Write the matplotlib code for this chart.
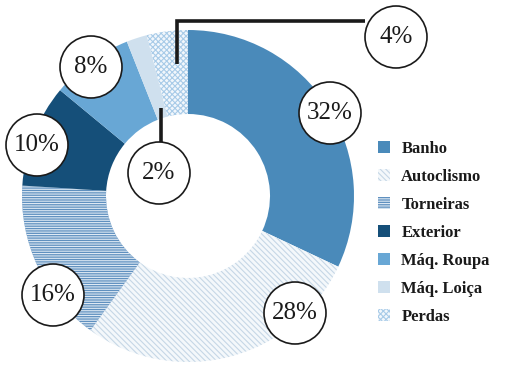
"""Donut chart of household water use shares (recreated)."""

import matplotlib.pyplot as plt
from matplotlib.patches import Circle

plt.rcParams["hatch.linewidth"] = 0.8

categories = ["Banho", "Autoclismo", "Torneiras", "Exterior",
              "Máq. Roupa", "Máq. Loiça", "Perdas"]
shares = [32, 28, 16, 10, 8, 2, 4]
share_labels = ["32%", "28%", "16%", "10%", "8%", "2%", "4%"]

# face colour, hatch colour, hatch pattern for each slice
faces = ["#4a8aba", "#f4f8fb", "#5f90bf", "#154f79",
         "#68a7d5", "#cfe0ee", "#f2f7fc"]
hatch_cols = ["#4a8aba", "#c6d7e6", "#dfeaf4", "#154f79",
              "#68a7d5", "#cfe0ee", "#a8cbe8"]
hatches = [None, "\\\\\\\\\\\\", "-------", None, None, None, "xxxxxx"]

# label circle centres in pixel space (x, y from top)
label_pos = [(330, 113), (295, 313), (53, 295), (37, 145),
             (91, 67), (159, 173), (396, 37)]

W, H = 512, 375
fig = plt.figure(figsize=(W / 100, H / 100), dpi=100)
ax = fig.add_axes([0, 0, 1, 1])

cx, cy = 188, H - 196
wedges, _ = ax.pie(
    shares,
    startangle=90,
    counterclock=False,
    radius=166,
    center=(cx, cy),
    wedgeprops=dict(width=84, linewidth=0),
    frame=True,
)
ax.set_xlim(0, W)
ax.set_ylim(0, H)
ax.set_aspect("equal")
ax.axis("off")
for w, fc, hc, h in zip(wedges, faces, hatch_cols, hatches):
    w.set_facecolor(fc)
    w.set_edgecolor(hc)
    w.set_linewidth(0)
    if h:
        w.set_hatch(h)

# leader lines
ax.plot([365, 177, 177], [H - 21, H - 21, H - 64], color="#1a1a1a",
        lw=2.6, solid_joinstyle="miter", solid_capstyle="butt", zorder=4)
ax.plot([161, 161], [H - 108, H - 142], color="#1a1a1a",
        lw=2.6, solid_capstyle="butt", zorder=4)

for (x, y), txt in zip(label_pos, share_labels):
    ax.add_patch(Circle((x, H - y), 31, facecolor="white",
                        edgecolor="#1a1a1a", lw=1.2, zorder=5))
    ax.text(x, H - y, txt, ha="center", va="center", fontsize=18,
            family="Liberation Serif", color="#1a1a1a", zorder=6)

leg = ax.legend(
    wedges, categories,
    loc="upper left",
    bbox_to_anchor=(363 / W, 1 - 126 / H),
    frameon=False,
    handlelength=0.7,
    handleheight=0.7,
    handletextpad=0.7,
    labelspacing=0.72,
    prop={"family": "Liberation Serif", "weight": "bold", "size": 12},
)
for t in leg.get_texts():
    t.set_color("#1a1a1a")

fig.savefig("out.png", dpi=100)
